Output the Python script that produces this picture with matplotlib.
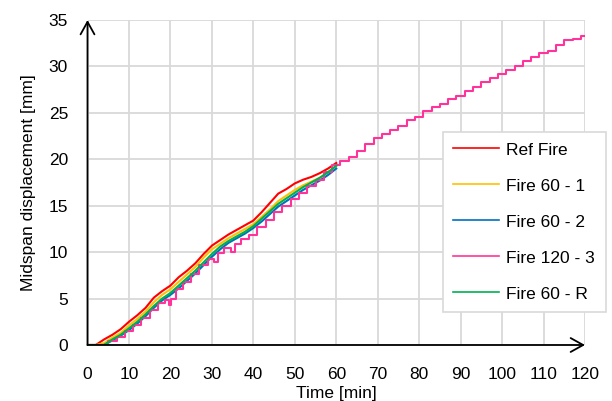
import matplotlib
matplotlib.use("Agg")
import matplotlib.pyplot as plt

plt.rcParams["font.family"] = ["Liberation Sans", "DejaVu Sans"]
FS = 12.5

# ---- data (time [min], midspan displacement [mm]) ----
t60 = [0, 2, 4, 6, 8, 10, 12, 14, 16, 18, 20, 22, 24, 26, 28, 30,
       32, 34, 36, 38, 40, 42, 44, 46, 48, 50, 52, 54, 56, 58, 60]
ref_fire = [0, 0, 0.6, 1.1, 1.7, 2.5, 3.2, 4.0, 5.1, 5.8, 6.4, 7.3, 8.0, 8.8, 9.8, 10.7,
            11.3, 11.9, 12.4, 12.9, 13.4, 14.3, 15.3, 16.3, 16.8, 17.4, 17.8, 18.1, 18.5, 19.0, 19.6]
fire60_1 = [0, 0, 0.2, 0.8, 1.3, 2.1, 2.8, 3.6, 4.6, 5.4, 6.0, 6.8, 7.6, 8.4, 9.4, 10.3,
            10.9, 11.5, 12.0, 12.5, 13.0, 13.8, 14.6, 15.5, 16.1, 16.7, 17.2, 17.6, 18.0, 18.6, 19.3]
fire60_2 = [0, 0, 0, 0.5, 1.0, 1.6, 2.3, 3.1, 4.0, 4.8, 5.4, 6.1, 6.9, 7.7, 8.6, 9.5,
            10.3, 11.0, 11.5, 12.0, 12.6, 13.3, 14.1, 14.9, 15.5, 16.1, 16.7, 17.2, 17.7, 18.3, 19.0]
fire60_r = [0, 0, 0, 0.6, 1.1, 1.8, 2.5, 3.3, 4.2, 5.0, 5.6, 6.4, 7.2, 8.0, 8.9, 9.8,
            10.6, 11.2, 11.7, 12.2, 12.8, 13.6, 14.4, 15.2, 15.8, 16.4, 17.0, 17.5, 18.0, 18.6, 19.3]

t120 = [0, 2, 4, 6, 8, 10, 12, 14, 16, 18, 19.5, 20, 20.5, 22, 24, 26, 28, 30, 31, 32,
        34, 35, 36, 38, 40, 42, 44, 46, 48, 50, 52, 54, 56, 58, 60,
        62, 64, 66, 68, 70, 72, 74, 76, 78, 80, 82, 84, 86, 88, 90,
        92, 94, 96, 98, 100, 102, 104, 106, 108, 110, 112, 114, 116, 118, 120]
fire120_3 = [0, 0, 0, 0.4, 0.9, 1.5, 2.2, 2.9, 3.8, 4.5, 4.9, 4.3, 5.0, 6.0, 6.8, 7.6, 8.6, 9.3, 8.9, 9.9,
             10.5, 10.0, 10.9, 11.4, 11.9, 12.7, 13.5, 14.3, 15.0, 15.7, 16.4, 17.1, 17.8, 18.6, 19.4,
             19.8, 20.3, 20.9, 21.6, 22.3, 22.7, 23.2, 23.6, 24.2, 24.6, 25.2, 25.6, 26.0, 26.5, 26.8,
             27.4, 27.8, 28.3, 28.8, 29.2, 29.6, 30.1, 30.6, 31.0, 31.4, 31.7, 32.3, 32.8, 33.0, 33.3]

fig = plt.figure(figsize=(6.12, 4.01), dpi=100)
ax = fig.add_axes([87.5/612, 56/401, 497.5/612, 325/401])

ax.plot(t60, ref_fire, color="#ff0000", lw=1.5, label="Ref Fire")
ax.plot(t60, fire60_1, color="#ffc000", lw=1.5, label="Fire 60 - 1")
ax.plot(t60, fire60_2, color="#0070c0", lw=1.5, label="Fire 60 - 2")
ax.plot(t120, fire120_3, color="#ff3399", lw=1.5, drawstyle="steps-mid", label="Fire 120 - 3")
ax.plot(t60, fire60_r, color="#00b050", lw=1.5, label="Fire 60 - R")

ax.set_xlim(0, 120); ax.set_ylim(0, 35)
ax.set_xticks(range(0, 121, 10)); ax.set_yticks(range(0, 36, 5))
ax.grid(True, color="#d9d9d9", lw=1.3)
ax.set_axisbelow(True)
for s in ["top", "right", "left", "bottom"]:
    ax.spines[s].set_visible(False)
ax.tick_params(length=0, labelsize=FS)
ax.tick_params(axis="x", pad=16)
ax.tick_params(axis="y", pad=14)

# axis arrows
arr = dict(arrowstyle="->,head_length=0.9,head_width=0.5", color="black", lw=1.3,
           shrinkA=0, shrinkB=0)
ax.annotate("", xy=(0, 35), xytext=(0, 0), arrowprops=arr, annotation_clip=False)
ax.annotate("", xy=(120, 0), xytext=(0, 0), arrowprops=arr, annotation_clip=False)

ax.set_xlabel("Time [min]", fontsize=FS, labelpad=3)
ax.set_ylabel("Midspan displacement [mm]", fontsize=FS, labelpad=9)

leg = fig.legend(loc="upper left", bbox_to_anchor=(443/612, 1 - 132/401), fontsize=FS,
                 frameon=True, fancybox=False, framealpha=1, edgecolor="#d9d9d9",
                 handlelength=2.65, handletextpad=0.4, labelspacing=1.2, borderpad=0.6,
                 borderaxespad=0)
leg.get_frame().set_linewidth(1.2)
for h in leg.get_lines():
    h.set_linewidth(1.2)

fig.savefig("out.png", dpi=100)
